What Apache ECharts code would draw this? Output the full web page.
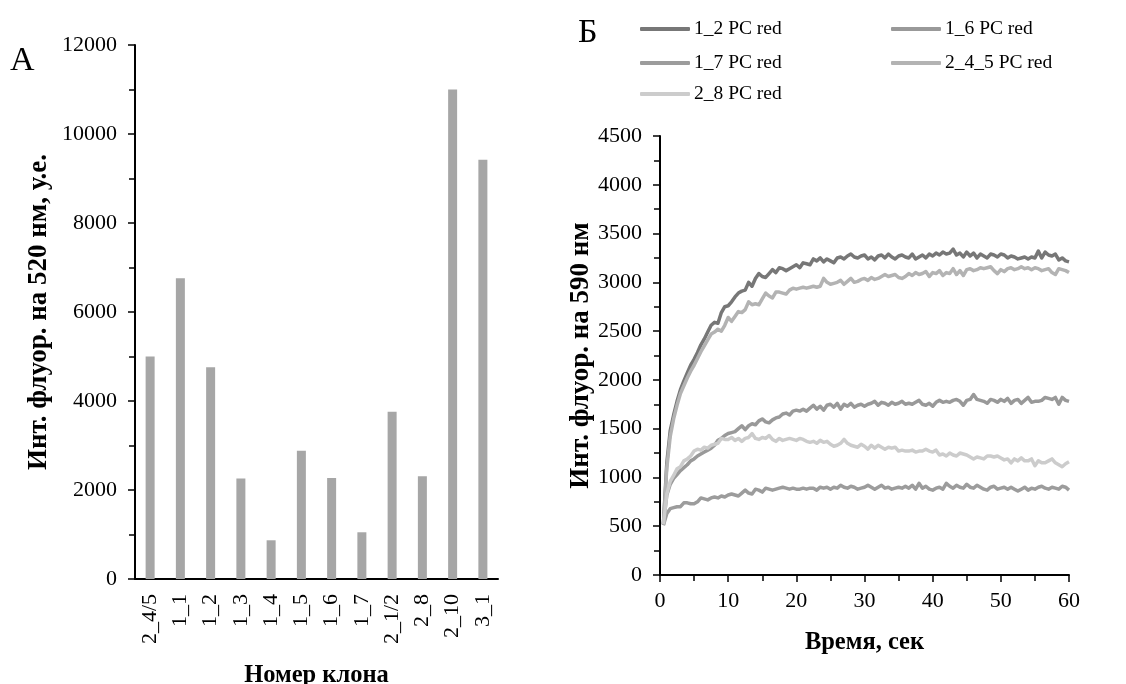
<!DOCTYPE html>
<html>
<head>
<meta charset="utf-8">
<script src="https://cdn.jsdelivr.net/npm/echarts@6/dist/echarts.min.js"></script>
<style>
html,body{margin:0;padding:0;background:#fff;}
#c{width:1126px;height:684px;}
</style>
</head>
<body>
<div id="c"></div>
<script>
// ---- Panel A: bar chart ----
const categories = ['2_4/5','1_1','1_2','1_3','1_4','1_5','1_6','1_7','2_1/2','2_8','2_10','3_1'];
const barValues = [5000, 6760, 4760, 2260, 870, 2880, 2270, 1050, 3760, 2310, 11000, 9420];
const barTicks = [0, 2000, 4000, 6000, 8000, 10000, 12000];

// ---- Panel B: kinetics ----
const seriesNames = ['1_2 PC red', '1_6 PC red', '1_7 PC red', '2_4_5 PC red', '2_8 PC red'];
const time = [0.5,1,1.5,2,2.5,3,3.5,4,4.5,5,5.5,6,6.5,7,7.5,8,8.5,9,9.5,10,
10.5,11,11.5,12,12.5,13,13.5,14,14.5,15,15.5,16,16.5,17,17.5,18,18.5,19,19.5,20,
20.5,21,21.5,22,22.5,23,23.5,24,24.5,25,25.5,26,26.5,27,27.5,28,28.5,29,29.5,30,
30.5,31,31.5,32,32.5,33,33.5,34,34.5,35,35.5,36,36.5,37,37.5,38,38.5,39,39.5,40,
40.5,41,41.5,42,42.5,43,43.5,44,44.5,45,45.5,46,46.5,47,47.5,48,48.5,49,49.5,50,
50.5,51,51.5,52,52.5,53,53.5,54,54.5,55,55.5,56,56.5,57,57.5,58,58.5,59,59.5,60];

const s1_2 = [520,1150,1480,1640,1780,1900,1990,2070,2150,2210,2280,2360,2420,2490,2560,2590,2580,2690,2750,2760,
2800,2850,2890,2910,2920,3000,2960,3040,3090,3060,3050,3090,3130,3100,3150,3140,3120,3140,3160,3180,
3150,3200,3190,3180,3240,3220,3250,3210,3240,3220,3200,3250,3260,3240,3270,3290,3260,3250,3270,3280,
3240,3260,3230,3270,3280,3250,3290,3260,3240,3270,3280,3260,3250,3290,3240,3260,3280,3250,3290,3270,
3300,3280,3310,3290,3300,3340,3280,3300,3260,3310,3270,3300,3250,3290,3270,3250,3290,3280,3260,3290,
3280,3250,3270,3260,3240,3250,3260,3240,3260,3250,3320,3250,3310,3280,3270,3290,3230,3250,3220,3210];

const s1_6 = [520,820,930,990,1030,1070,1100,1130,1170,1190,1220,1240,1260,1280,1300,1330,1380,1400,1430,1450,
1460,1470,1500,1530,1490,1530,1550,1540,1580,1600,1570,1560,1590,1610,1620,1650,1660,1640,1680,1690,
1680,1700,1680,1710,1740,1700,1730,1690,1740,1750,1720,1760,1700,1750,1730,1760,1720,1740,1750,1730,
1750,1760,1780,1740,1770,1760,1740,1770,1750,1760,1780,1750,1760,1750,1770,1790,1750,1740,1760,1730,
1770,1790,1770,1780,1770,1790,1800,1780,1740,1790,1800,1850,1800,1790,1780,1760,1800,1790,1770,1800,
1780,1810,1760,1790,1800,1760,1790,1820,1770,1780,1780,1790,1820,1810,1800,1820,1750,1820,1790,1780];

const s1_7 = [510,630,680,690,700,700,740,740,730,730,750,790,780,770,790,800,790,810,800,820,
830,820,810,840,870,840,830,880,870,850,890,880,870,880,890,900,890,880,890,880,
880,890,880,890,890,870,900,890,900,880,900,890,920,900,890,910,900,880,890,900,
920,900,880,900,920,890,900,880,890,900,890,910,890,920,880,940,890,910,880,870,
890,900,880,940,910,890,920,900,890,930,900,890,920,900,880,870,900,910,880,890,
900,880,900,880,860,880,900,870,890,880,900,910,890,880,900,890,880,910,900,870];

const s2_4_5 = [520,1100,1420,1600,1740,1860,1940,2020,2090,2150,2220,2290,2350,2410,2470,2490,2520,2500,2560,2640,
2600,2650,2700,2690,2720,2800,2770,2780,2770,2830,2890,2860,2840,2900,2900,2890,2880,2920,2940,2930,
2940,2950,2940,2950,2960,2950,2960,3040,3000,2980,2990,3000,3020,2980,3010,3040,3000,3010,3030,3040,
3020,3050,3030,3040,3060,3080,3060,3070,3080,3050,3040,3060,3090,3070,3100,3080,3090,3110,3060,3100,
3090,3120,3070,3100,3090,3140,3080,3120,3070,3130,3140,3120,3130,3150,3140,3150,3160,3120,3090,3130,
3110,3140,3150,3130,3140,3160,3140,3150,3130,3150,3140,3120,3130,3140,3100,3080,3140,3130,3120,3100];

const s2_8 = [520,830,960,1020,1090,1110,1170,1190,1220,1270,1290,1280,1310,1300,1330,1340,1350,1400,1390,1390,
1410,1380,1400,1370,1400,1410,1450,1400,1390,1410,1400,1430,1390,1370,1400,1380,1390,1400,1390,1380,
1400,1390,1370,1360,1370,1350,1380,1360,1370,1340,1320,1330,1350,1390,1350,1330,1320,1310,1340,1320,
1290,1330,1300,1330,1310,1290,1310,1300,1310,1270,1280,1270,1270,1280,1260,1270,1270,1290,1270,1260,
1280,1230,1240,1220,1250,1230,1220,1250,1240,1230,1210,1190,1210,1200,1190,1220,1220,1210,1220,1200,
1180,1190,1150,1190,1170,1200,1170,1170,1190,1120,1170,1150,1150,1170,1190,1150,1130,1110,1140,1160];

const lineValues = [s1_2, s1_6, s1_7, s2_4_5, s2_8];
const lineColors = ['#777777', '#999999', '#9c9c9c', '#b3b3b3', '#cccccc'];

const FONT = '"Liberation Serif", "Times New Roman", serif';
const axisLineStyle = { color: '#000', width: 2 };
const plain = v => String(v);

function pair(vals) { return time.map((t, i) => [t, vals[i]]); }

const legendPos = [
  { left: 640, top: 19 }, { left: 891, top: 19 },
  { left: 640, top: 53 }, { left: 891, top: 53 },
  { left: 640, top: 84 }
];

const chart = echarts.init(document.getElementById('c'));
chart.setOption({
  animation: false,
  backgroundColor: '#fff',
  textStyle: { fontFamily: FONT, color: '#000' },
  graphic: [
    { type: 'text', left: 10, top: 44, style: { text: 'А', font: '34px ' + FONT, fill: '#000' } },
    { type: 'text', left: 578, top: 16, style: { text: 'Б', font: '34px ' + FONT, fill: '#000' } }
  ],
  legend: seriesNames.map((n, i) => ({
    data: [n], left: legendPos[i].left, top: legendPos[i].top,
    icon: 'roundRect', itemWidth: 50, itemHeight: 4, itemGap: 0,
    selectedMode: false, padding: 0,
    textStyle: { fontFamily: FONT, fontSize: 19.5, color: '#000', padding: [0, 0, 0, -1] }
  })),
  grid: [
    { left: 135, top: 45, width: 363, height: 534, outerBoundsMode: 'none' },
    { left: 660, top: 136, width: 409, height: 439, outerBoundsMode: 'none' }
  ],
  xAxis: [
    {
      gridIndex: 0, type: 'category', data: categories,
      axisLine: { lineStyle: axisLineStyle }, axisTick: { show: false },
      axisLabel: { rotate: 90, margin: 15, fontSize: 22, fontFamily: FONT, color: '#000' },
      name: 'Номер клона', nameLocation: 'middle', nameGap: 84,
      nameTextStyle: { fontSize: 24.5, fontWeight: 'bold', fontFamily: FONT, color: '#000' }
    },
    {
      gridIndex: 1, type: 'value', min: 0, max: 60, interval: 10,
      axisLine: { lineStyle: axisLineStyle },
      axisTick: { show: true, length: 7, lineStyle: { color: '#000', width: 1.5 } },
      minorTick: { show: true, splitNumber: 2, length: 6, lineStyle: { color: '#000', width: 1.5 } },
      splitLine: { show: false },
      axisLabel: { margin: 15, fontSize: 22, fontFamily: FONT, color: '#000', formatter: plain },
      name: 'Время, сек', nameLocation: 'middle', nameGap: 55,
      nameTextStyle: { fontSize: 24.5, fontWeight: 'bold', fontFamily: FONT, color: '#000' }
    }
  ],
  yAxis: [
    {
      gridIndex: 0, type: 'value', min: barTicks[0], max: barTicks[barTicks.length - 1], interval: 2000,
      axisLine: { show: true, lineStyle: axisLineStyle },
      axisTick: { show: true, length: 7, lineStyle: { color: '#000', width: 1.5 } },
      minorTick: { show: true, splitNumber: 2, length: 6, lineStyle: { color: '#000', width: 1.5 } },
      splitLine: { show: false },
      axisLabel: { margin: 18, fontSize: 22, fontFamily: FONT, color: '#000', formatter: plain },
      name: 'Инт. флуор. на 520 нм, у.е.', nameLocation: 'middle', nameGap: 82,
      nameTextStyle: { fontSize: 27, fontWeight: 'bold', fontFamily: FONT, color: '#000' }
    },
    {
      gridIndex: 1, type: 'value', min: 0, max: 4500, interval: 500,
      axisLine: { show: true, lineStyle: axisLineStyle },
      axisTick: { show: true, length: 7, lineStyle: { color: '#000', width: 1.5 } },
      minorTick: { show: true, splitNumber: 2, length: 6, lineStyle: { color: '#000', width: 1.5 } },
      splitLine: { show: false },
      axisLabel: { margin: 18, fontSize: 22, fontFamily: FONT, color: '#000', formatter: plain },
      name: 'Инт. флуор. на 590 нм', nameLocation: 'middle', nameGap: 58,
      nameTextStyle: { fontSize: 27, fontWeight: 'bold', fontFamily: FONT, color: '#000' }
    }
  ],
  series: [
    {
      type: 'bar', xAxisIndex: 0, yAxisIndex: 0, data: barValues,
      barWidth: 9, itemStyle: { color: '#a6a6a6' }
    }
  ].concat(seriesNames.map((n, i) => ({
    type: 'line', name: n, xAxisIndex: 1, yAxisIndex: 1,
    data: pair(lineValues[i]), showSymbol: false, symbol: 'none',
    color: lineColors[i],
    lineStyle: { color: lineColors[i], width: 3.5, join: 'round' }
  })))
});
</script>
</body>
</html>
